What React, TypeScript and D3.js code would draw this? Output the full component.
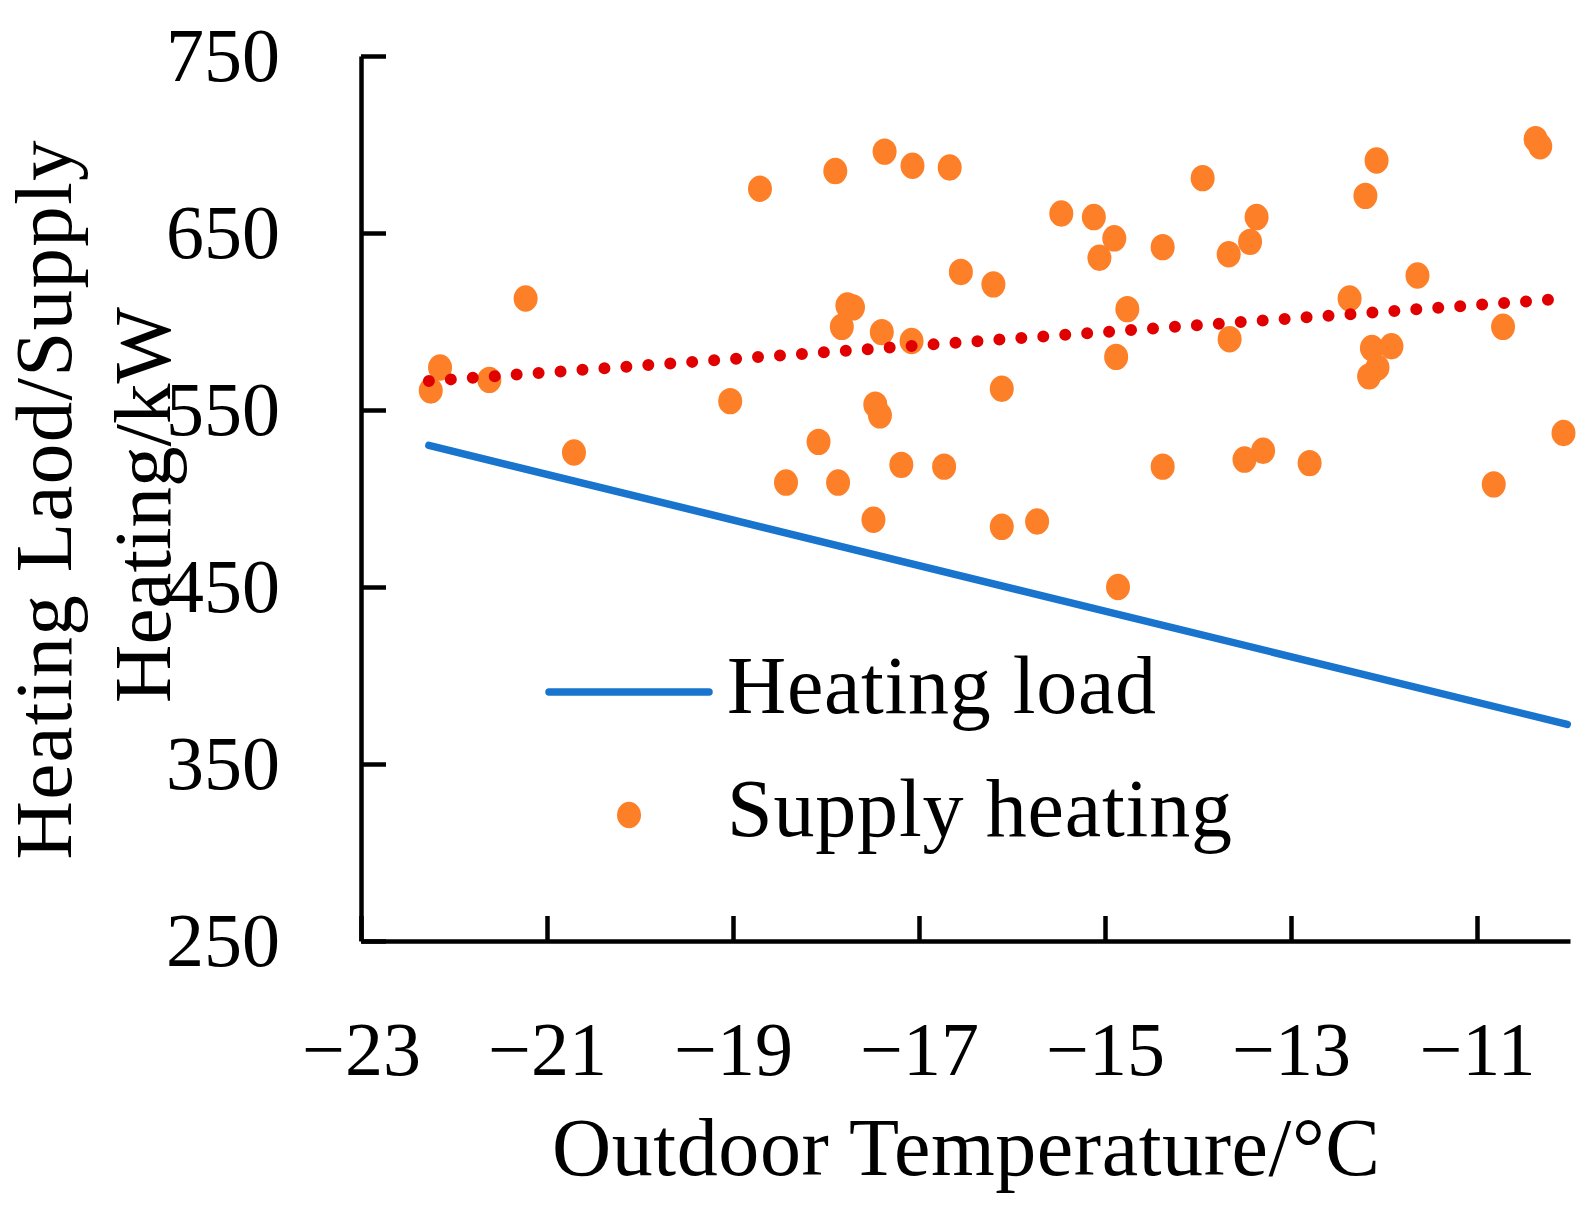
import { useEffect, useRef } from "react";
import * as d3 from "d3";

// Supply heating scatter (outdoor temperature °C, supply heating kW)
const supplyTemp = [
  -22.25, -22.15, -21.62, -21.23, -20.71, -19.03, -18.71, -18.43, -18.08, -17.9,
  -17.87, -17.83, -17.77, -17.71, -17.49, -17.47, -17.42, -17.4, -17.37, -17.19,
  -17.08, -17.07, -16.73, -16.67, -16.55, -16.2, -16.11, -16.11, -15.73, -15.47,
  -15.12, -15.06, -14.9, -14.88, -14.86, -14.76, -14.38, -14.38, -13.95, -13.67,
  -13.66, -13.5, -13.44, -13.37, -13.3, -12.8, -12.37, -12.2, -12.16, -12.13,
  -12.08, -12.07, -11.92, -11.64, -10.82, -10.72, -10.37, -10.32, -10.07,
];
const supplyHeat = [
  561, 574, 567, 613, 526, 555, 675, 509, 532, 685,
  509, 597, 609, 608, 488, 553, 547, 594, 696, 519,
  589, 688, 518, 687, 628, 621, 562, 484, 487, 661,
  659, 636, 647, 580, 450, 607, 642, 518, 681, 638,
  590, 522, 645, 659, 527, 520, 613, 671, 569, 585,
  691, 574, 586, 626, 508, 597, 703, 699, 537,
];

// Heating load (straight line)
const loadTemp = [-22.27, -10.03];
const loadValue = [530, 372.4];

// Linear trend of supply heating
const trendTemp = [-22.27, -10.12];
const trendValue = [566.4, 612.7];

const xTicks = [-23, -21, -19, -17, -15, -13, -11];
const yTicks = [250, 350, 450, 550, 650, 750];

const W = 1593;
const H = 1211;
const FONT = "'Liberation Serif', 'Times New Roman', serif";
const ORANGE = "#FD7F28";
const BLUE = "#1874CD";

const App = () => {
  const svgRef = useRef<SVGSVGElement | null>(null);

  useEffect(() => {
    if (!svgRef.current) return;
    const svg = d3.select(svgRef.current);
    svg.selectAll("*").remove();

    const x = d3.scaleLinear().domain([-23, -10]).range([361, 1570]);
    const y = d3.scaleLinear().domain([250, 750]).range([941, 56]);

    // y axis
    svg
      .append("g")
      .attr("transform", `translate(${x(-23)},0)`)
      .call(
        d3
          .axisLeft(y)
          .tickValues(yTicks)
          .tickSizeInner(-25)
          .tickSizeOuter(0)
          .tickPadding(81)
          .tickFormat((v) => String(v))
      )
      .call((a) => a.selectAll("path, line").attr("stroke", "#000").attr("stroke-width", 4.5))
      .call((a) =>
        a.selectAll("text").attr("font-family", FONT).attr("font-size", 76).attr("fill", "#000")
      );

    // x axis
    svg
      .append("g")
      .attr("transform", `translate(0,${y(250)})`)
      .call(
        d3
          .axisBottom(x)
          .tickValues(xTicks)
          .tickSizeInner(-25)
          .tickSizeOuter(0)
          .tickPadding(80)
          .tickFormat((v) => d3.format("d")(v as number).replace("-", "\u2212"))
      )
      .call((a) => a.selectAll("path, line").attr("stroke", "#000").attr("stroke-width", 4.5))
      .call((a) =>
        a.selectAll("text").attr("font-family", FONT).attr("font-size", 76).attr("fill", "#000")
      );

    // heating load line
    const line = d3
      .line<number>()
      .x((_, i) => x(loadTemp[i]))
      .y((d) => y(d));
    svg
      .append("path")
      .attr("d", line(loadValue))
      .attr("fill", "none")
      .attr("stroke", BLUE)
      .attr("stroke-width", 7.5)
      .attr("stroke-linecap", "round");

    // supply heating points
    svg
      .append("g")
      .selectAll("ellipse")
      .data(supplyHeat)
      .join("ellipse")
      .attr("cx", (_, i) => x(supplyTemp[i]))
      .attr("cy", (d) => y(d))
      .attr("rx", 12)
      .attr("ry", 13.2)
      .attr("fill", ORANGE);

    // trend (dotted)
    const trend = d3
      .line<number>()
      .x((_, i) => x(trendTemp[i]))
      .y((d) => y(d));
    svg
      .append("path")
      .attr("d", trend(trendValue))
      .attr("fill", "none")
      .attr("stroke", "#E00000")
      .attr("stroke-width", 12)
      .attr("stroke-linecap", "round")
      .attr("stroke-dasharray", "0 22");

    // axis titles
    svg
      .append("text")
      .attr("x", 966)
      .attr("y", 1175)
      .attr("text-anchor", "middle")
      .attr("font-family", FONT)
      .attr("font-size", 82)
      .attr("textLength", 828)
      .text("Outdoor Temperature/°C");

    const yTitle = svg
      .append("g")
      .attr("font-family", FONT)
      .attr("font-size", 81)
      .attr("text-anchor", "middle");
    yTitle
      .append("text")
      .attr("transform", "translate(71,500) rotate(-90)")
      .attr("textLength", 719)
      .text("Heating Laod/Supply");
    yTitle
      .append("text")
      .attr("transform", "translate(170,505) rotate(-90)")
      .text("Heating/kW");

    // legend
    const legend = svg.append("g").attr("font-family", FONT).attr("font-size", 82);
    legend
      .append("line")
      .attr("x1", 549)
      .attr("x2", 709)
      .attr("y1", 692)
      .attr("y2", 692)
      .attr("stroke", BLUE)
      .attr("stroke-width", 7.5)
      .attr("stroke-linecap", "round");
    legend.append("text").attr("x", 727).attr("y", 713).attr("textLength", 429).text("Heating load");
    legend
      .append("ellipse")
      .attr("cx", 629)
      .attr("cy", 815)
      .attr("rx", 12)
      .attr("ry", 13.2)
      .attr("fill", ORANGE);
    legend.append("text").attr("x", 727).attr("y", 836).attr("textLength", 505).text("Supply heating");
  }, []);

  return (
    <svg
      ref={svgRef}
      width={W}
      height={H}
      style={{ position: "absolute", left: 0, top: 0, background: "#fff" }}
    />
  );
};

export default App;
